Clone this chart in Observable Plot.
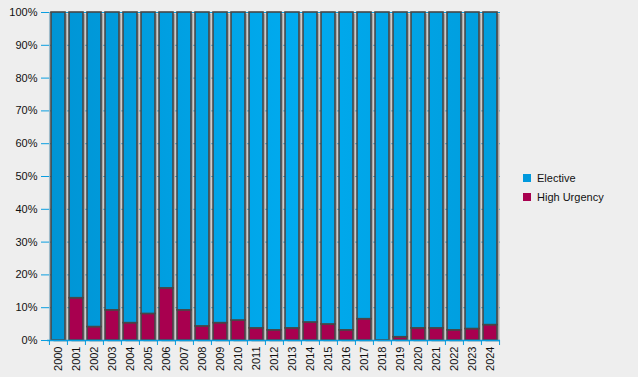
<!DOCTYPE html>
<html>
<head>
<meta charset="utf-8">
<script src="https://cdn.jsdelivr.net/npm/d3@7"></script>
<script src="https://cdn.jsdelivr.net/npm/@observablehq/plot@0.6"></script>
<style>
  html, body { margin: 0; padding: 0; background: #eeeeee; }
  #wrap { position: relative; width: 638px; height: 377px; overflow: hidden; font-family: "Liberation Sans", Arial, sans-serif; }
  #legend { position: absolute; left: 523px; top: 168px; font-size: 11px; color: #111; }
  #legend .row { display: flex; align-items: center; height: 19px; }
  #legend .sw { width: 8px; height: 8px; margin-right: 6px; }
</style>
</head>
<body>
<div id="wrap"><div id="legend"></div></div>
<script>
const years = ["2000","2001","2002","2003","2004","2005","2006","2007","2008","2009","2010","2011","2012","2013","2014","2015","2016","2017","2018","2019","2020","2021","2022","2023","2024"];
const highUrgency = [0, 12.9, 4.1, 9.2, 5.3, 8.1, 15.9, 9.2, 4.3, 5.3, 6.1, 3.7, 3.1, 3.7, 5.5, 4.9, 3.1, 6.5, 0, 1.0, 3.7, 3.7, 3.1, 3.5, 4.7];
const elective = highUrgency.map(v => 100 - v);
const seriesNames = ["High Urgency", "Elective"];
const yTicks = [0,10,20,30,40,50,60,70,80,90,100];

const magenta = "#a8004f";
const axisBlue = "#0a9ee0";

const rows = [];
years.forEach((y, i) => {
  rows.push({year: y, series: "High Urgency", value: highUrgency[i]});
  rows.push({year: y, series: "Elective", value: elective[i]});
});

const W = 638, H = 377;
const mL = 47, mR = 138, mT = 12, mB = 37;
const step = (W - mL - mR) / years.length;

const chart = Plot.plot({
  width: W,
  height: H,
  marginLeft: mL,
  marginRight: mR,
  marginTop: mT,
  marginBottom: mB,
  style: {background: "transparent", fontFamily: "Liberation Sans, Arial, sans-serif", fontSize: "11px", color: "#111"},
  x: {domain: years, paddingInner: 0.24, paddingOuter: 0.12, align: 0.5, label: null},
  y: {domain: [0, 100], label: null},
  color: {domain: seriesNames, range: [magenta, "url(#blueGrad)"]},
  marks: [
    Plot.ruleY(yTicks, {stroke: axisBlue, strokeWidth: 1}),
    Plot.ruleX([years[0]], {dx: -step / 2, y1: 0, y2: 100, stroke: "#9ab8c8", strokeWidth: 1}),
    Plot.barY(years, {x: d => d, y1: 0, y2: 100, fill: "#a9a9a9", dx: 2.5, dy: 1.5}),
    Plot.barY(rows, Plot.stackY({x: "year", y: "value", fill: "series", order: seriesNames, stroke: "#474747", strokeWidth: 1.6})),
    Plot.ruleY([0], {stroke: axisBlue, strokeWidth: 1.5}),
    Plot.ruleX(years, {x: d => d, dx: -step / 2, y1: 0, y2: 0, insetBottom: -5, stroke: axisBlue}),
    Plot.ruleX([years[years.length - 1]], {dx: step / 2, y1: 0, y2: 0, insetBottom: -5, stroke: axisBlue}),
    Plot.axisY(yTicks, {tickSize: 6, tickPadding: 4, stroke: axisBlue, fill: "#111", tickFormat: d => d + "%", label: null}),
    Plot.axisX({tickSize: 0, tickPadding: 6, tickRotate: -90, fill: "#111", label: null})
  ]
});

const ns = "http://www.w3.org/2000/svg";
const defs = document.createElementNS(ns, "defs");
const grad = document.createElementNS(ns, "linearGradient");
grad.setAttribute("id", "blueGrad");
grad.setAttribute("gradientUnits", "userSpaceOnUse");
grad.setAttribute("x1", mL); grad.setAttribute("x2", W - mR);
grad.setAttribute("y1", 0); grad.setAttribute("y2", 0);
[["0", "#0094d4"], ["0.55", "#00abef"], ["1", "#009ddd"]].forEach(([o, c]) => {
  const s = document.createElementNS(ns, "stop");
  s.setAttribute("offset", o); s.setAttribute("stop-color", c);
  grad.appendChild(s);
});
defs.appendChild(grad);
chart.insertBefore(defs, chart.firstChild);

const wrap = document.getElementById("wrap");
wrap.insertBefore(chart, wrap.firstChild);

const legend = document.getElementById("legend");
[["Elective", "#0099dd"], ["High Urgency", magenta]].forEach(([name, c]) => {
  const r = document.createElement("div"); r.className = "row";
  const s = document.createElement("div"); s.className = "sw"; s.style.background = c;
  const t = document.createElement("span"); t.textContent = name;
  r.appendChild(s); r.appendChild(t); legend.appendChild(r);
});
</script>
</body>
</html>
